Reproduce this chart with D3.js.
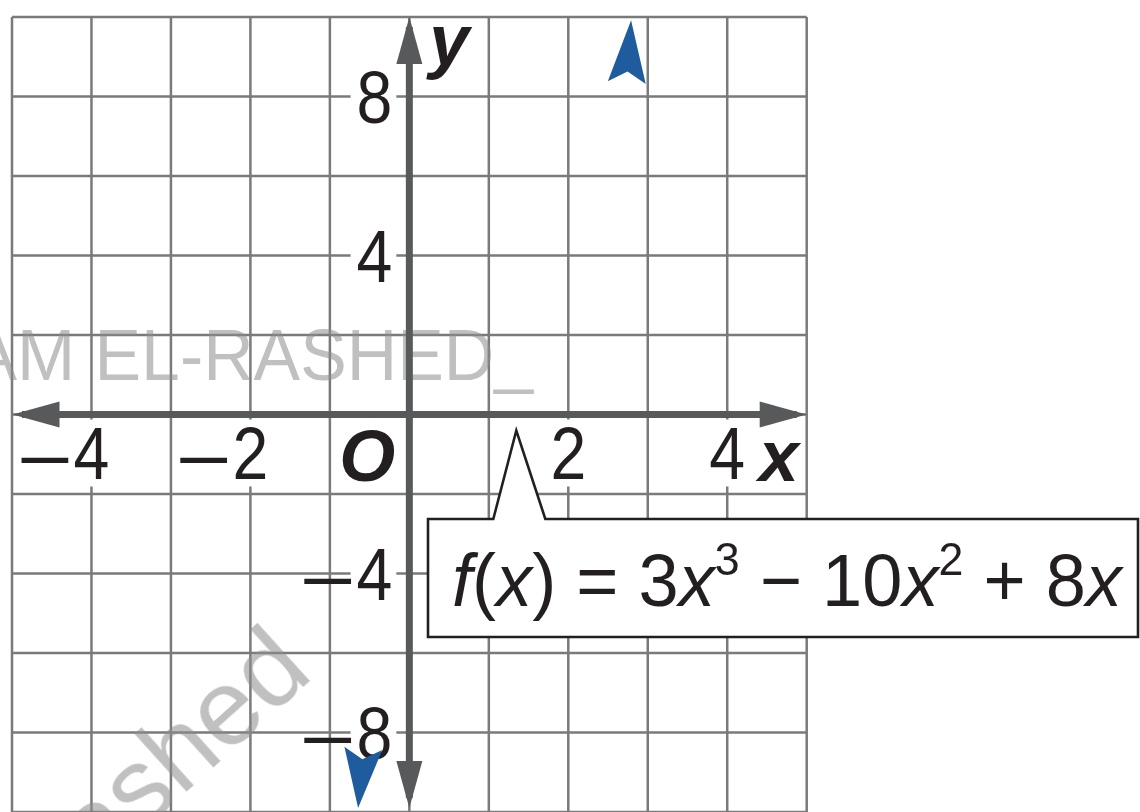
<!DOCTYPE html>
<html>
<head>
<meta charset="utf-8">
<script src="https://cdn.jsdelivr.net/npm/d3@7"></script>
<style>
  html, body { margin: 0; padding: 0; background: #fff; }
  svg { display: block; }
</style>
</head>
<body>
<svg id="chart" width="1140" height="812"></svg>
<script>
// Coordinate plane: one grid square is 1 unit across and 2 units up.
const xDomain = [-5, 5];
const yDomain = [-10, 10];
const xTickValues = [-4, -2, 2, 4];
const yTickValues = [8, 4, -4, -8];

// Ends of the graph of f: where each arrowhead tip sits and the point just behind it.
const curveEndTips = [[2.79, 9.92], [-0.645, -9.90]];
const curveEndBases = [[2.736, 8.35], [-0.579, -8.40]];

// The equation label points at the zero x = 4/3.
const calloutX = 4 / 3;
const equationParts = [
  { t: "f", italic: true }, { t: "(" }, { t: "x", italic: true }, { t: ")" },
  { t: " = 3" }, { t: "x", italic: true }, { t: "3", sup: true },
  { t: " \u2212 10" }, { t: "x", italic: true }, { t: "2", sup: true },
  { t: " + 8" }, { t: "x", italic: true }
];

const FONT = "'Liberation Sans', Arial, Helvetica, sans-serif";
const GRID = "#7a7a7a";
const AXIS = "#58595b";
const CURVE = "#1f5c9e";

const svg = d3.select("#chart");
const x = d3.scaleLinear().domain(xDomain).range([12, 806.7]);
const y = d3.scaleLinear().domain(yDomain).range([812, 17]);

// grid
const grid = svg.append("g").attr("stroke", GRID).attr("stroke-width", 2.5);
grid.selectAll("line.v").data(x.ticks(10)).join("line")
  .attr("class", "v")
  .attr("x1", d => x(d)).attr("x2", d => x(d))
  .attr("y1", y(yDomain[1])).attr("y2", y(yDomain[0]));
grid.selectAll("line.h").data(y.ticks(10)).join("line")
  .attr("class", "h")
  .attr("y1", d => y(d)).attr("y2", d => y(d))
  .attr("x1", x(xDomain[0])).attr("x2", x(xDomain[1]));

// faint name stamped across the plane
const stamp = svg.append("g").attr("fill", "#8c8c8c").attr("opacity", 0.55)
  .style("font-family", FONT);
stamp.append("text")
  .attr("transform", "translate(533,380) scale(0.97,1)")
  .attr("text-anchor", "end")
  .attr("font-size", 72)
  .text("AM EL-RASHED_");
stamp.append("text")
  .attr("transform", "translate(315,676) rotate(-42)")
  .attr("text-anchor", "end")
  .attr("font-size", 108)
  .text("ashed");

// tick labels with white backing behind the digits
const labels = svg.append("g").style("font-family", FONT);
const FS = 74;
function tickLabel(value, px, baseline, anchor) {
  const g = labels.append("g");
  const bg = g.append("rect").attr("fill", "#fff");
  const digit = g.append("text")
    .attr("transform", `translate(${px},${baseline}) scale(0.87,1)`)
    .attr("text-anchor", anchor)
    .attr("font-size", FS)
    .attr("fill", "#231f20")
    .text(Math.abs(value));
  const b = digit.node().getBoundingClientRect();
  bg.attr("x", b.left - 6).attr("width", b.width + 10)
    .attr("y", baseline - 0.716 * FS - 6).attr("height", 0.716 * FS + 14);
  if (value < 0) {
    g.append("text")
      .attr("transform", `translate(${b.left - 1},${baseline + 6}) scale(1.3,1)`)
      .attr("text-anchor", "end")
      .attr("font-size", FS)
      .attr("fill", "#231f20")
      .text("\u2212");
  }
}
xTickValues.forEach(v => tickLabel(v, x(v), y(0) + 64, "middle"));
yTickValues.forEach(v => tickLabel(v, x(0) - 17, y(v) + 26, "end"));

// axes with arrowheads
const axes = svg.append("g").attr("fill", AXIS);
const AW = 7, AL = 47, AH = 13;
axes.append("line").attr("stroke", AXIS).attr("stroke-width", AW)
  .attr("x1", x(xDomain[0]) + 10).attr("x2", x(xDomain[1]) - 10)
  .attr("y1", y(0)).attr("y2", y(0));
axes.append("line").attr("stroke", AXIS).attr("stroke-width", AW)
  .attr("x1", x(0)).attr("x2", x(0))
  .attr("y1", y(yDomain[1]) + 10).attr("y2", y(yDomain[0]) - 14);
function axisHead(tx, ty, angle) {
  axes.append("path")
    .attr("transform", `translate(${tx},${ty}) rotate(${angle})`)
    .attr("d", `M0,0L${-AL},${-AH}L${-AL},${AH}Z`);
}
axisHead(x(xDomain[1]), y(0), 0);
axisHead(x(xDomain[0]) + 0.5, y(0), 180);
axisHead(x(0), y(yDomain[1]), -90);
axisHead(x(0), y(yDomain[0]) - 4, 90);

// origin and axis names
labels.append("text")
  .attr("x", x(0) - 42).attr("y", y(0) + 66)
  .attr("text-anchor", "middle")
  .attr("font-size", 72).attr("font-weight", "bold").attr("font-style", "italic")
  .attr("fill", "#231f20").text("O");
labels.append("text")
  .attr("x", x(0) + 20).attr("y", y(yDomain[1]) + 48)
  .attr("font-size", 72).attr("font-weight", "bold").attr("font-style", "italic")
  .attr("fill", "#231f20").text("y");
labels.append("text")
  .attr("x", x(xDomain[1]) - 48).attr("y", y(0) + 66)
  .attr("font-size", 72).attr("font-weight", "bold").attr("font-style", "italic")
  .attr("fill", "#231f20").text("x");

// arrowheads at both ends of the graph of f
const heads = svg.append("g").attr("fill", CURVE);
curveEndTips.forEach((tip, i) => {
  const base = curveEndBases[i];
  const tx = x(tip[0]), ty = y(tip[1]);
  const bx = x(base[0]), by = y(base[1]);
  const len = Math.hypot(tx - bx, ty - by);
  const ang = Math.atan2(ty - by, tx - bx) * 180 / Math.PI;
  const W = 19, N = 11;
  heads.append("path")
    .attr("transform", `translate(${tx},${ty}) rotate(${ang})`)
    .attr("d", `M0,0L${-len},${-W}L${-len + N},0L${-len},${W}Z`);
});

// equation callout pointing at the zero
const bx0 = 428, bx1 = 1138, by0 = 519, by1 = 637;
const tipX = x(calloutX) + 1, tipY = y(0) + 16;
const callout = d3.path();
callout.moveTo(bx0, by0);
callout.lineTo(tipX - 23, by0);
callout.lineTo(tipX, tipY);
callout.lineTo(tipX + 29, by0);
callout.lineTo(bx1, by0);
callout.lineTo(bx1, by1);
callout.lineTo(bx0, by1);
callout.closePath();
svg.append("path").attr("d", callout.toString())
  .attr("fill", "#fff").attr("stroke", "#231f20").attr("stroke-width", 2.6)
  .attr("stroke-linejoin", "miter");

const eqG = svg.append("g");
const eq = eqG.append("text")
  .style("font-family", FONT)
  .attr("font-size", FS)
  .attr("fill", "#231f20")
  .attr("xml:space", "preserve")
  .style("white-space", "pre");
let raised = false;
equationParts.forEach(p => {
  const ts = eq.append("tspan").text(p.t);
  if (p.italic) ts.attr("font-style", "italic");
  if (p.sup) { ts.attr("font-size", FS * 0.62).attr("dy", -31); raised = true; }
  else if (raised) { ts.attr("dy", 31); raised = false; }
});
const natural = eq.node().getComputedTextLength();
eqG.attr("transform", `translate(452,606) scale(${670 / natural},1)`);
</script>
</body>
</html>
